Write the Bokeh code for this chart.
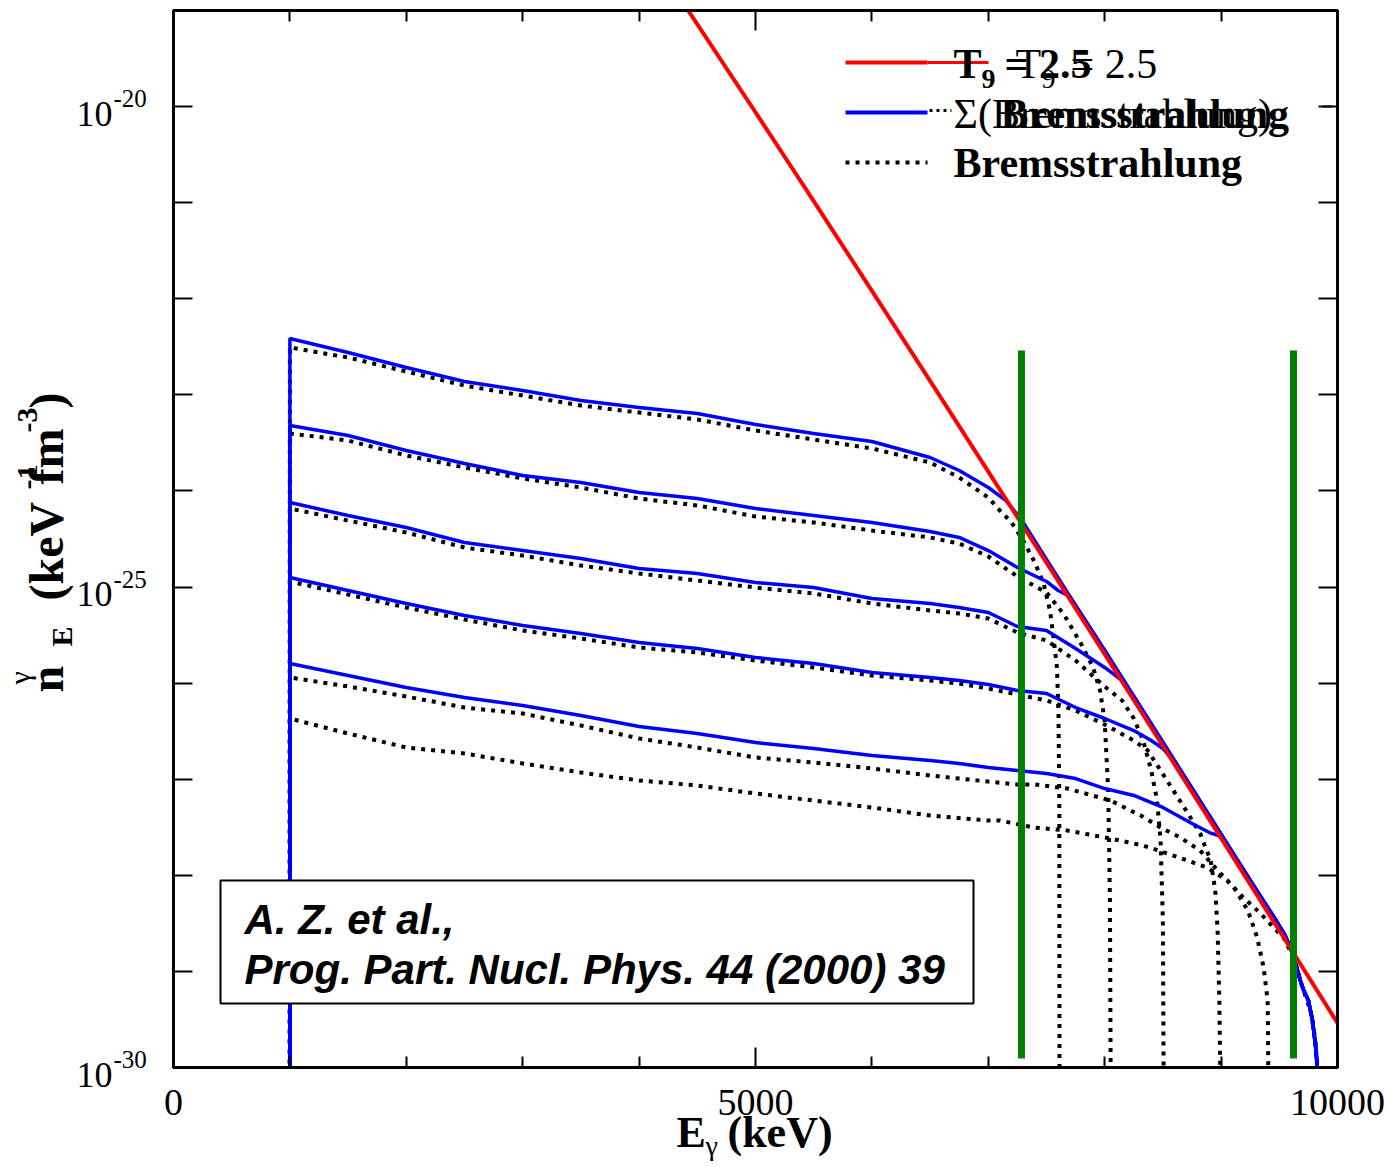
import numpy as np
from bokeh.plotting import figure
from bokeh.layouts import row, column
from bokeh.models import (Range1d, FixedTicker, LinearAxis, LogAxis, Label,
                          BoxAnnotation, Arrow, CustomJSTickFormatter)
from bokeh.core.properties import value
from bokeh.embed import file_html
from bokeh.resources import INLINE

# ---------------- data (energies in keV, values as log10 of n_E) ----------------
# Planck line, T9 = 2.5
RED_E = [4400, 5000, 5500, 6000, 6500, 7000, 7500, 8000, 8500, 9000, 9500, 10000]
RED_LOG = [-18.960, -20.059, -20.984, -21.917, -22.855, -23.799, -24.747, -25.699,
           -26.654, -27.613, -28.574, -29.537]

# common high-energy part of the summed (blue) spectra, riding on the Planck line
TAIL_E = [7300, 7500, 7750, 8000, 8250, 8500, 8750, 9000, 9250, 9450, 9550, 9622,
          9680, 9710, 9750, 9785, 9811, 9840]
TAIL_LOG = [-24.328, -24.713, -25.192, -25.660, -26.139, -26.618, -27.097, -27.575,
            -28.054, -28.429, -28.626, -28.835, -29.095, -29.199, -29.303, -29.511,
            -29.771, -30.187]

# summed spectra Sigma(Bremsstrahlung)  (blue)
B1_E = [1000, 1000, 1500, 2000, 2500, 3000, 3500, 4000, 4500, 5000, 5500, 6000, 6500,
        6750, 7000, 7150, 7285]
B1_LOG = [-31.0, -22.414, -22.559, -22.715, -22.861, -22.955, -23.059, -23.132, -23.194,
          -23.308, -23.402, -23.485, -23.652, -23.787, -23.964, -24.099, -24.297]
B2_E = [1000, 1000, 1500, 2000, 2500, 3000, 3500, 4000, 4500, 5000, 5500, 6000, 6500,
        6750, 7000, 7250, 7500, 7600, 7700]
B2_LOG = [-31.0, -23.319, -23.423, -23.579, -23.714, -23.839, -23.912, -24.016, -24.079,
          -24.183, -24.256, -24.328, -24.422, -24.484, -24.620, -24.797, -24.942, -25.036,
          -25.098]
B3_E = [1000, 1000, 1500, 2000, 2500, 3000, 3500, 4000, 4500, 5000, 5500, 6000, 6500,
        6750, 7000, 7250, 7500, 7750, 8000, 8150]
B3_LOG = [-31.0, -24.120, -24.256, -24.380, -24.537, -24.620, -24.703, -24.807, -24.859,
          -24.953, -25.005, -25.119, -25.171, -25.213, -25.265, -25.411, -25.452, -25.640,
          -25.837, -25.973]
B4_E = [1000, 1000, 1500, 2000, 2500, 3000, 3500, 4000, 4500, 5000, 5500, 6000, 6500,
        6750, 7000, 7250, 7500, 7750, 8000, 8250, 8400, 8500, 8600]
B4_LOG = [-31.0, -24.901, -25.036, -25.171, -25.296, -25.400, -25.484, -25.577, -25.640,
          -25.733, -25.796, -25.889, -25.941, -25.973, -26.014, -26.077, -26.108, -26.254,
          -26.368, -26.493, -26.597, -26.680, -26.816]
B5_E = [1000, 1000, 1500, 2000, 2500, 3000, 3500, 4000, 4500, 5000, 5500, 6000, 6500,
        6750, 7000, 7250, 7500, 7750, 8000, 8250, 8500, 8750, 8900, 9000]
B5_LOG = [-31.0, -25.796, -25.921, -26.046, -26.150, -26.233, -26.337, -26.451, -26.524,
          -26.618, -26.680, -26.753, -26.805, -26.836, -26.878, -26.909, -26.941, -26.993,
          -27.097, -27.169, -27.294, -27.461, -27.555, -27.596]

# individual Bremsstrahlung spectra (black dotted)
D1_E = [1000, 1000, 1500, 2000, 2500, 3000, 3500, 4000, 4500, 5000, 5500, 6000, 6500,
        6750, 7000, 7100, 7200, 7300, 7400, 7475, 7530, 7560, 7590, 7603, 7610, 7612]
D1_LOG = [-31.0, -22.507, -22.611, -22.757, -22.903, -23.007, -23.111, -23.184, -23.256,
          -23.371, -23.465, -23.558, -23.704, -23.860, -24.068, -24.204, -24.328, -24.516,
          -24.745, -24.963, -25.244, -25.525, -25.837, -26.316, -27.222, -30.3]
D2_E = [1000, 1000, 1500, 2000, 2500, 3000, 3500, 4000, 4500, 5000, 5500, 6000, 6500,
        6750, 7000, 7250, 7500, 7650, 7800, 7900, 7960, 8000, 8030, 8045, 8052]
D2_LOG = [-31.0, -23.402, -23.475, -23.631, -23.756, -23.870, -23.964, -24.079, -24.151,
          -24.266, -24.328, -24.412, -24.484, -24.547, -24.682, -24.890, -25.057, -25.286,
          -25.598, -25.837, -26.077, -26.389, -27.117, -28.262, -30.3]
D3_E = [1000, 1000, 1500, 2000, 2500, 3000, 3500, 4000, 4500, 5000, 5500, 6000, 6500,
        6750, 7000, 7250, 7500, 7750, 8000, 8150, 8250, 8330, 8400, 8450, 8480, 8500, 8507]
D3_LOG = [-31.0, -24.183, -24.308, -24.432, -24.589, -24.672, -24.776, -24.859, -24.932,
          -25.005, -25.067, -25.171, -25.244, -25.275, -25.327, -25.473, -25.556, -25.765,
          -26.035, -26.181, -26.368, -26.597, -26.909, -27.222, -27.638, -28.470, -30.3]
D4_E = [1000, 1000, 1500, 2000, 2500, 3000, 3500, 4000, 4500, 5000, 5500, 6000, 6500,
        6750, 7000, 7250, 7500, 7750, 8000, 8250, 8370, 8480, 8590, 8710, 8820, 8910, 8950,
        8970, 8985, 8995]
D4_LOG = [-31.0, -24.942, -25.078, -25.213, -25.338, -25.452, -25.536, -25.629, -25.681,
          -25.765, -25.837, -25.921, -25.973, -26.004, -26.056, -26.118, -26.181, -26.285,
          -26.431, -26.597, -26.701, -26.909, -27.117, -27.346, -27.565, -27.846, -28.158,
          -28.574, -29.303, -30.3]
D5_E = [1000, 1000, 1500, 2000, 2500, 3000, 3500, 4000, 4500, 5000, 5500, 6000, 6500,
        6750, 7000, 7250, 7400, 7680, 8050, 8310, 8480, 8650, 8820, 8970, 9110, 9230, 9310,
        9365, 9400, 9408]
D5_LOG = [-31.0, -25.941, -26.035, -26.139, -26.254, -26.316, -26.441, -26.576, -26.670,
          -26.774, -26.826, -26.888, -26.961, -26.993, -27.024, -27.055, -27.055, -27.097,
          -27.222, -27.378, -27.502, -27.607, -27.742, -27.950, -28.127, -28.366, -28.647,
          -28.959, -29.303, -30.3]
D6_E = [1000, 1000, 1500, 2000, 2500, 3000, 3500, 4000, 4500, 5000, 5500, 6000, 6500,
        7000, 7100, 7390, 7680, 8050, 8330, 8540, 8710, 8880, 9055, 9190, 9340, 9450, 9536,
        9622, 9708, 9768, 9811, 9840]
D6_LOG = [-31.0, -26.368, -26.524, -26.670, -26.732, -26.836, -26.930, -27.013, -27.065,
          -27.149, -27.222, -27.294, -27.378, -27.430, -27.430, -27.502, -27.534, -27.617,
          -27.690, -27.773, -27.846, -27.919, -28.054, -28.231, -28.398, -28.543, -28.647,
          -28.855, -29.199, -29.407, -29.719, -30.3]

# gamma-ray energy markers (green)
GREEN_E = [7285, 9622]
GREEN_LOG_TOP = -22.538
GREEN_LOG_BOTTOM = -29.906

X_MAJOR = [0, 5000, 10000]
X_MAJOR_LABELS = ["0", "5000", "10000"]
X_MINOR = [1000, 2000, 3000, 4000, 6000, 7000, 8000, 9000]
Y_MAJOR = [1e-30, 1e-25, 1e-20]
Y_MINOR = [1e-29, 1e-28, 1e-27, 1e-26, 1e-24, 1e-23, 1e-22, 1e-21, 1e-19]
Y_TICK_EXP = ["-30", "-25", "-20"]

# ---------------- layout (page pixels) ----------------
X_MIN, X_MAX = 0, 10000
LOG_MIN, LOG_MAX = -30, -19
FRAME_L, FRAME_R, FRAME_T, FRAME_B = 173, 1337, 10, 1067
LEFT_W = 160                       # left text panel width
MAIN_W = 1385 - LEFT_W             # main figure width
MAIN_H = 1070                      # main figure height
BOT_H = 95                         # bottom text panel height
TOTAL_H = MAIN_H + BOT_H
BASE_K = 0.35                      # baseline correction (fraction of font size)

SERIF = "Liberation Serif"
SANS = "Liberation Sans"


def page_x(e):
    return FRAME_L + (e - X_MIN) / (X_MAX - X_MIN) * (FRAME_R - FRAME_L)


def page_y(v):
    return FRAME_B - (np.log10(v) - LOG_MIN) / (LOG_MAX - LOG_MIN) * (FRAME_B - FRAME_T)


def sx(px):
    return px - FRAME_L


def sy(py):
    return FRAME_B - py


def curve(E, L):
    return np.asarray(E, dtype=float), np.power(10.0, np.asarray(L, dtype=float))


def with_tail(E, L):
    e = list(E)
    l = list(L)
    for te, tl in zip(TAIL_E, TAIL_LOG):
        if te > e[-1]:
            e.append(te)
            l.append(tl)
    return curve(e, l)


# ---------------- main figure ----------------
p = figure(width=MAIN_W, height=MAIN_H, x_range=Range1d(X_MIN, X_MAX),
           y_range=Range1d(10.0 ** LOG_MIN, 10.0 ** LOG_MAX),
           y_axis_type="log", output_backend="svg", toolbar_location=None,
           min_border_left=FRAME_L - LEFT_W, min_border_right=MAIN_W + LEFT_W - FRAME_R,
           min_border_top=FRAME_T, min_border_bottom=MAIN_H - FRAME_B,
           background_fill_color="white", border_fill_color="white")
p.xgrid.visible = False
p.ygrid.visible = False
p.outline_line_color = "black"
p.outline_line_width = 3


def style_axis(ax, ticker, major_len, minor_len):
    ax.ticker = ticker
    ax.axis_line_color = "black"
    ax.axis_line_width = 3
    ax.major_tick_in = major_len
    ax.major_tick_out = 0
    ax.minor_tick_in = minor_len
    ax.minor_tick_out = 0
    ax.major_tick_line_width = 2
    ax.minor_tick_line_width = 2
    ax.major_tick_line_color = "black"
    ax.minor_tick_line_color = "black"
    ax.formatter = CustomJSTickFormatter(code="return ''")
    ax.major_label_text_font_size = "0px"
    ax.major_label_standoff = 0


style_axis(p.xaxis[0], FixedTicker(ticks=X_MAJOR, minor_ticks=X_MINOR), 20, 11)
style_axis(p.yaxis[0], FixedTicker(ticks=Y_MAJOR, minor_ticks=Y_MINOR), 19, 19)
xt = LinearAxis()
style_axis(xt, FixedTicker(ticks=X_MAJOR, minor_ticks=X_MINOR), 20, 11)
p.add_layout(xt, "above")
yr = LogAxis()
style_axis(yr, FixedTicker(ticks=Y_MAJOR, minor_ticks=Y_MINOR), 19, 19)
p.add_layout(yr, "right")

for E, L in [(D1_E, D1_LOG), (D2_E, D2_LOG), (D3_E, D3_LOG), (D4_E, D4_LOG),
             (D5_E, D5_LOG), (D6_E, D6_LOG)]:
    x, y = curve(E, L)
    p.line(x, y, line_color="black", line_width=4, line_dash="4 6")

for E, L in [(B1_E, B1_LOG), (B2_E, B2_LOG), (B3_E, B3_LOG), (B4_E, B4_LOG),
             (B5_E, B5_LOG)]:
    x, y = with_tail(E, L)
    p.line(x, y, line_color="#0000ff", line_width=3.5)

rx, ry = curve(RED_E, RED_LOG)
p.line(rx, ry, line_color="#ff0000", line_width=4)

p.segment(x0=GREEN_E, x1=GREEN_E,
          y0=[10.0 ** GREEN_LOG_BOTTOM] * len(GREEN_E),
          y1=[10.0 ** GREEN_LOG_TOP] * len(GREEN_E),
          line_color="#008000", line_width=7)


def label(px, py, text, size, font=SERIF, style="normal"):
    p.add_layout(Label(x=sx(px), y=sy(py - BASE_K * size), x_units="screen",
                       y_units="screen", text=text, text_font=font,
                       text_font_size=f"{size}px", text_font_style=style,
                       text_align="left", text_baseline="alphabetic",
                       text_color="black"))


def key(x0, x1, py, color, width, dash="solid"):
    p.add_layout(Arrow(x_start=sx(x0), y_start=sy(py), x_end=sx(x1), y_end=sy(py),
                       start_units="screen", end_units="screen", start=None, end=None,
                       line_color=color, line_width=width, line_dash=dash))


# legend
key(845, 927, 62, "#ff0000", 4)
key(927, 988, 62, "#ff0000", 3)
key(845, 927, 112, "#0000ff", 4)
key(929, 951, 110, "black", 3, "3 4")
key(845, 927, 162, "black", 4, "4 6")
key(1322, 1332, 106, "black", 2)

label(953, 78, "T", 42, style="bold")
label(981, 88, "9", 28, style="bold")
label(1004, 78, "= 2.5", 42, style="bold")
label(1015, 78, "T", 42)
label(1041, 88, "9", 28)
label(1070, 78, "= 2.5", 42)
label(953, 128, "\u03a3(Bremsstrahlung)", 42)
label(1000, 128, "Bremsstrahlung", 42, style="bold")
label(953, 177, "Bremsstrahlung", 42, style="bold")

# reference box
p.add_layout(BoxAnnotation(left=sx(220), right=sx(973), top=sy(880), bottom=sy(1003),
                           left_units="screen", right_units="screen",
                           top_units="screen", bottom_units="screen",
                           fill_color="white", fill_alpha=1.0, line_color="black",
                           line_alpha=1.0, line_width=2))
label(244, 934, "A. Z. et al.,", 42, font=SANS, style="bold italic")
label(244, 984, "Prog. Part. Nucl. Phys. 44 (2000) 39", 42, font=SANS,
      style="bold italic")


# ---------------- side text panels (tick labels and axis titles) ----------------
def panel(w, h):
    f = figure(width=w, height=h, x_range=Range1d(0, w), y_range=Range1d(0, h),
               x_axis_location=None, y_axis_location=None, output_backend="svg",
               toolbar_location=None, min_border=0, outline_line_color=None,
               background_fill_color="white", border_fill_color="white")
    f.xgrid.visible = False
    f.ygrid.visible = False
    return f


def put(f, x0, y0, h, px, py, text, size, style="normal", align="left", angle=0.0,
        font=SERIF):
    if angle:
        px = px - BASE_K * size
    else:
        py = py - BASE_K * size
    f.text(x=[px - x0], y=[y0 + h - py], text=[text], text_font=value(font),
           text_font_size=value(f"{size}px"), text_font_style=value(style),
           text_align=value(align), text_baseline=value("alphabetic"),
           angle=angle, text_color="black")


pl = panel(LEFT_W, TOTAL_H)      # page x 0..LEFT_W, y 0..TOTAL_H


def put_l(*a, **k):
    put(pl, 0, 0, TOTAL_H, *a, **k)


for v, ex in zip(Y_MAJOR, Y_TICK_EXP):
    ty = page_y(v)
    put_l(112, ty + 20, "10", 36, align="right")
    put_l(113, ty + 1, ex, 25)

A = np.pi / 2
put_l(63, 692, "n", 48, style="bold", angle=A)
put_l(29, 684, "\u03b3", 30, angle=A)
put_l(71, 646, "E", 30, style="bold", angle=A)
put_l(63, 600, "(keV", 48, style="bold", angle=A)
put_l(37, 489, "-1", 30, style="bold", angle=A)
put_l(63, 484, "fm", 48, style="bold", angle=A)
put_l(37, 432, "-3", 30, style="bold", angle=A)
put_l(63, 408, ")", 48, style="bold", angle=A)

pb = panel(MAIN_W, BOT_H)        # page x LEFT_W..1385, y MAIN_H..TOTAL_H


def put_b(*a, **k):
    put(pb, LEFT_W, MAIN_H, BOT_H, *a, **k)


for e, t in zip(X_MAJOR, X_MAJOR_LABELS):
    put_b(page_x(e), 1115, t, 38, align="center")

put_b(676, 1147, "E", 44, style="bold")
put_b(705, 1155, "\u03b3", 28)
put_b(727, 1147, "(keV)", 44, style="bold")

layout = row(pl, column(p, row(pb, spacing=0), spacing=0), spacing=0)
open("out.html", "w").write(file_html(layout, INLINE))
